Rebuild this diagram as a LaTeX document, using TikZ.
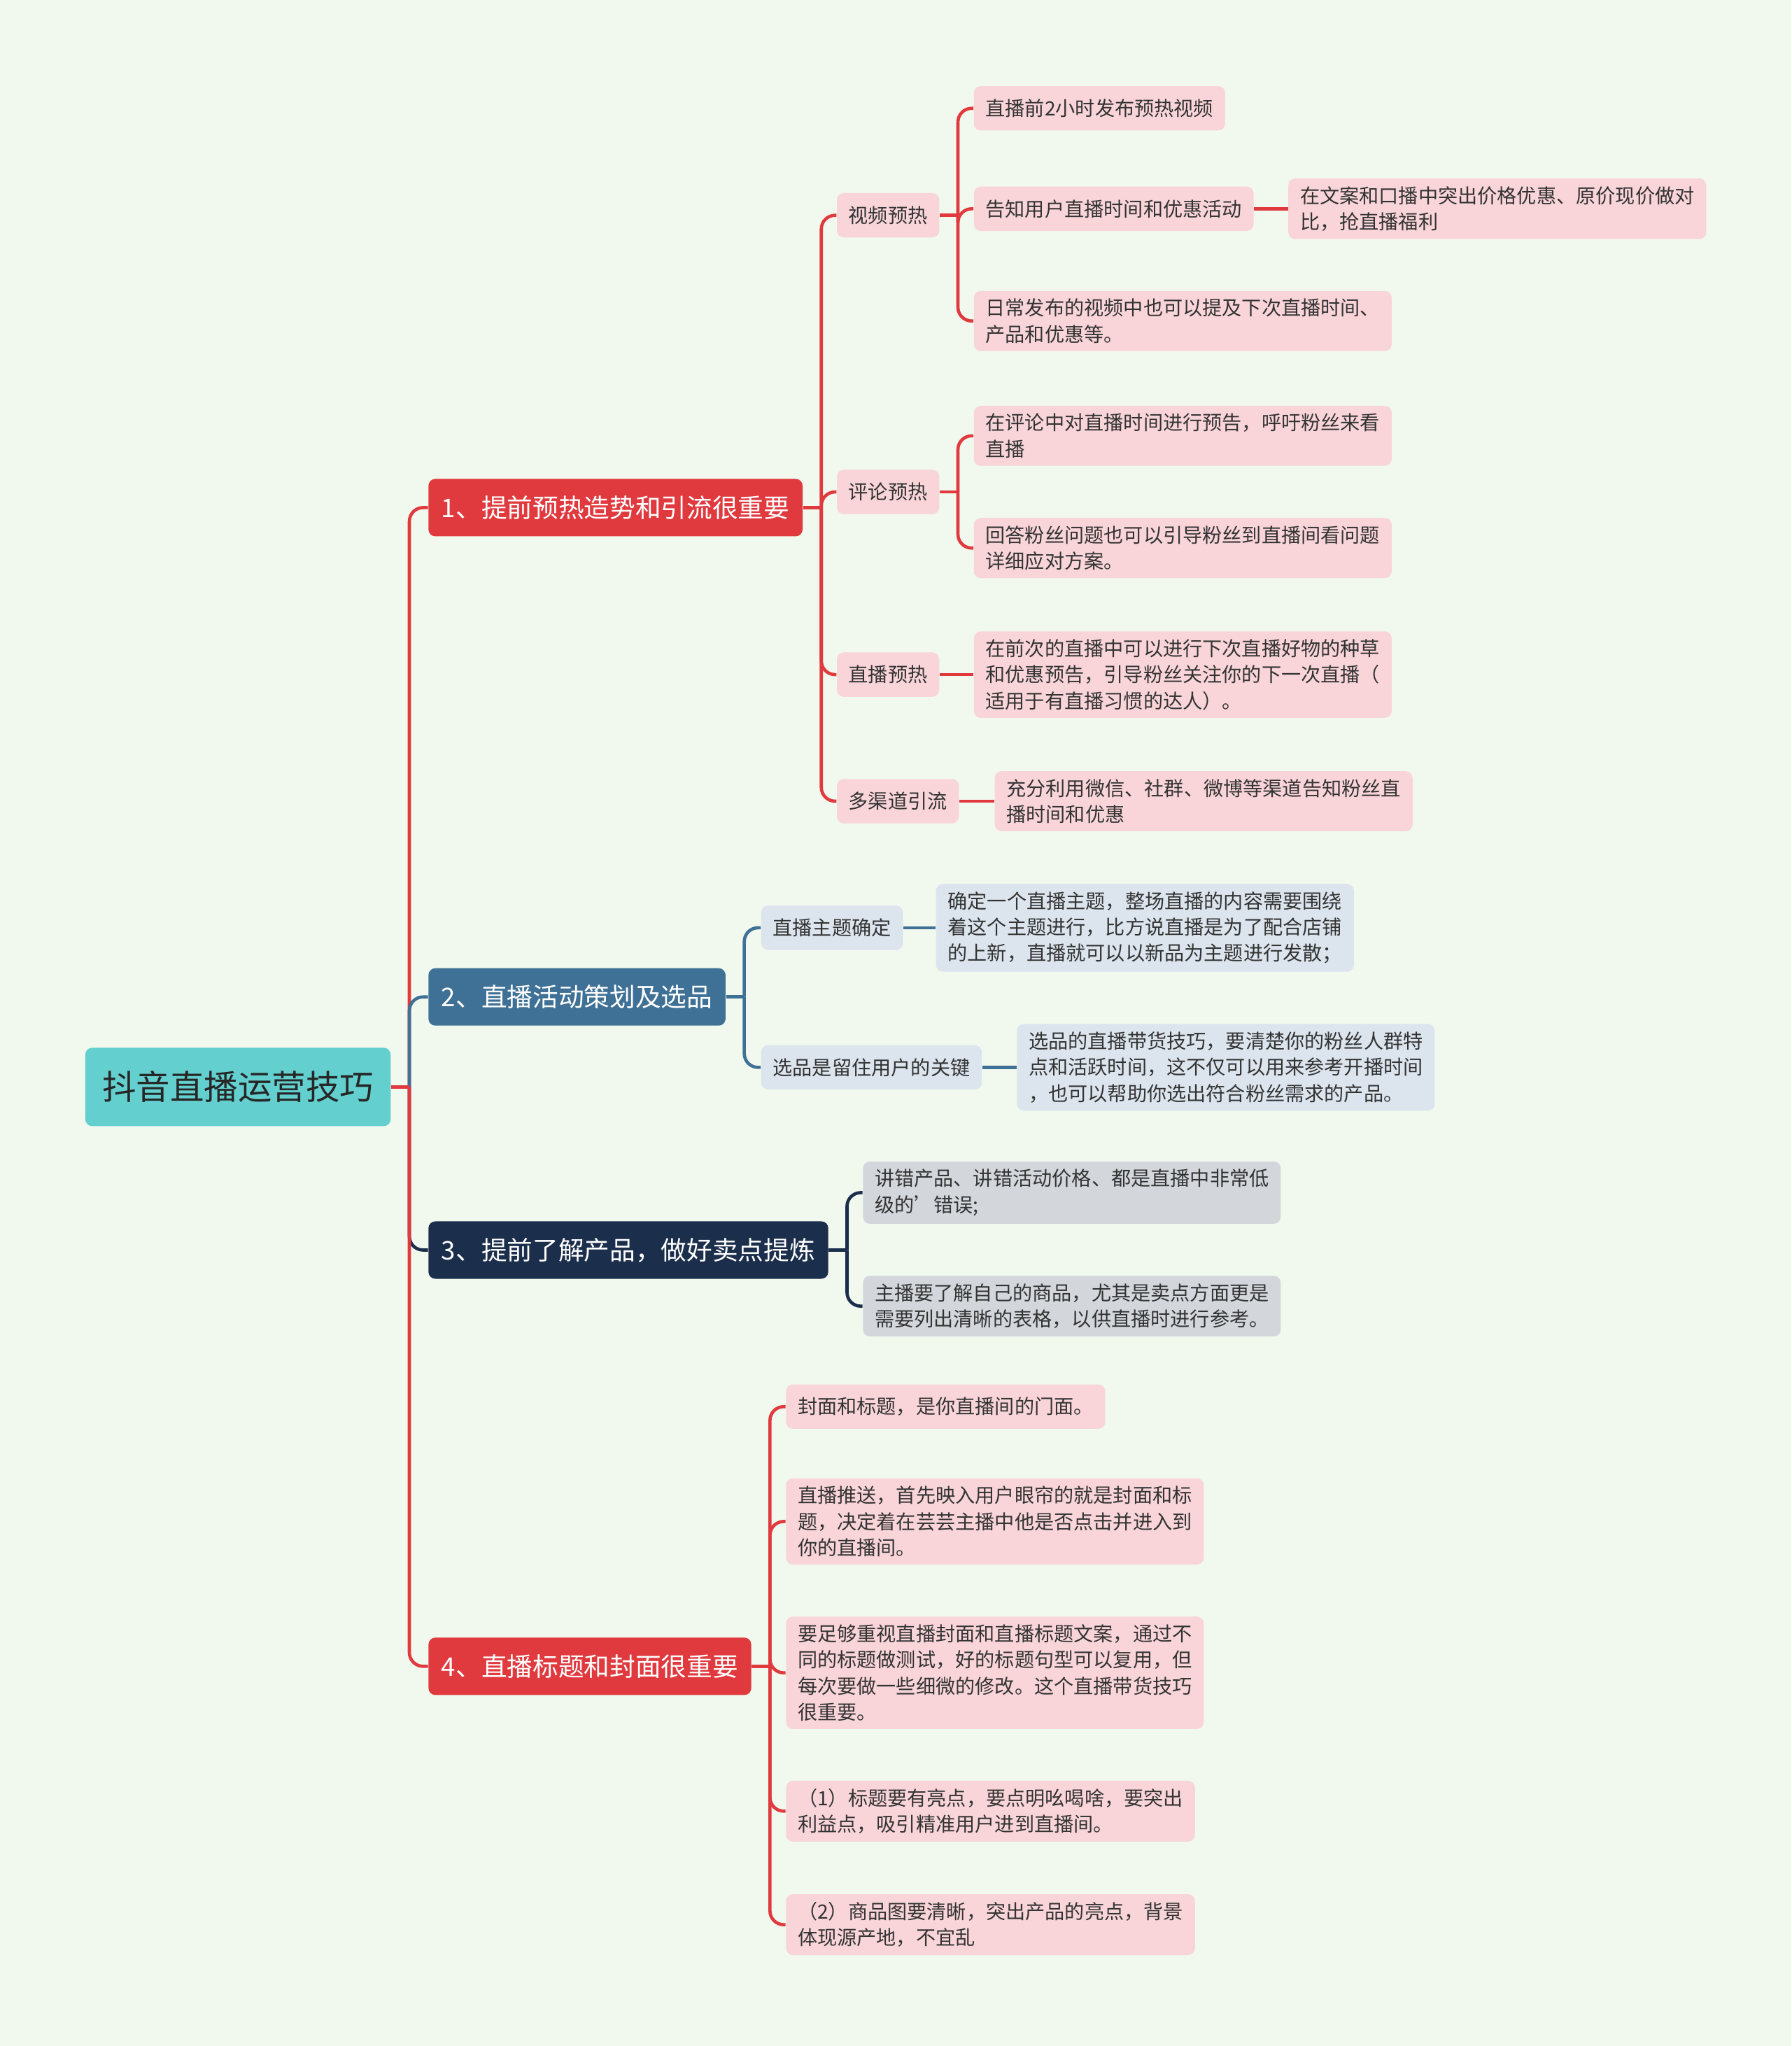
\documentclass[tikz,border=0pt]{standalone}
\usepackage{fontspec}
\setmainfont{Noto Sans CJK SC}
\definecolor{bgc}{HTML}{F1F8EE}
\definecolor{redc}{HTML}{E0393E}
\definecolor{bluec}{HTML}{3F7196}
\definecolor{navyc}{HTML}{1B2E4B}
\definecolor{tealc}{HTML}{63CFCF}
\definecolor{pinkc}{HTML}{F9D5D9}
\definecolor{lbluec}{HTML}{DCE5EE}
\definecolor{grayc}{HTML}{D3D7DC}
\tikzset{
  rootbox/.style={fill=tealc, rounded corners=3pt, anchor=west, text=black!85, font=\fontsize{14.8}{18}\selectfont, minimum height=1.2cm, inner xsep=0.26cm},
  topbox/.style={fill=#1, rounded corners=3pt, anchor=west, text=white, font=\fontsize{11.2}{13}\selectfont, minimum height=0.88cm, inner xsep=0.2cm},
  leafbox/.style={fill=#1, rounded corners=3pt, anchor=west, text=black!80, font=\fontsize{8.6}{11.4}\selectfont, align=left, minimum height=0.68cm, inner xsep=0.18cm, inner ysep=0.12cm},
  link/.style={draw=#1, line width=1.4pt},
}
\newcommand\branch[3]{%
  \path[link=#1] (#2.east) -- ++(14,0);
  \path[link=#1, rounded corners=6pt] (#2.east) ++(14,0) |- (#3.west);}
\newcommand\straight[3]{\path[link=#1] (#2.east) -- (#3.west);}
\begin{document}
\begin{tikzpicture}[x=0.02cm, y=-0.02cm]
\fill[bgc] (0,0) rectangle (1373,1568);
\useasboundingbox (0,0) rectangle (1373,1568);
% root and main topics
\node[rootbox] (root) at (65,833) {抖音直播运营技巧};
\node[topbox=redc] (t1) at (328,389) {1、提前预热造势和引流很重要};
\node[topbox=bluec] (t2) at (328,764) {2、直播活动策划及选品};
\node[topbox=navyc] (t3) at (328,958) {3、提前了解产品，做好卖点提炼};
\node[topbox=redc] (t4) at (328,1277) {4、直播标题和封面很重要};
% topic 1
\node[leafbox=pinkc] (s1) at (641,165) {视频预热};
\node[leafbox=pinkc] (s2) at (641,377) {评论预热};
\node[leafbox=pinkc] (s3) at (641,517) {直播预热};
\node[leafbox=pinkc] (s4) at (641,614) {多渠道引流};
\node[leafbox=pinkc] (s1a) at (746,83) {直播前2小时发布预热视频};
\node[leafbox=pinkc] (s1b) at (746,160) {告知用户直播时间和优惠活动};
\node[leafbox=pinkc] (s1b1) at (987,160) {在文案和口播中突出价格优惠、原价现价做对\\比，抢直播福利};
\node[leafbox=pinkc] (s1c) at (746,246) {日常发布的视频中也可以提及下次直播时间、\\产品和优惠等。};
\node[leafbox=pinkc] (s2a) at (746,334) {在评论中对直播时间进行预告，呼吁粉丝来看\\直播};
\node[leafbox=pinkc] (s2b) at (746,420) {回答粉丝问题也可以引导粉丝到直播间看问题\\详细应对方案。};
\node[leafbox=pinkc] (s3a) at (746,517) {在前次的直播中可以进行下次直播好物的种草\\和优惠预告，引导粉丝关注你的下一次直播（\\适用于有直播习惯的达人）。};
\node[leafbox=pinkc] (s4a) at (762,614) {充分利用微信、社群、微博等渠道告知粉丝直\\播时间和优惠};
% topic 2
\node[leafbox=lbluec] (p1) at (583,711) {直播主题确定};
\node[leafbox=lbluec] (p2) at (583,818) {选品是留住用户的关键};
\node[leafbox=lbluec] (p1a) at (717,711) {确定一个直播主题，整场直播的内容需要围绕\\着这个主题进行，比方说直播是为了配合店铺\\的上新，直播就可以以新品为主题进行发散；};
\node[leafbox=lbluec] (p2a) at (779,818) {选品的直播带货技巧，要清楚你的粉丝人群特\\点和活跃时间，这不仅可以用来参考开播时间\\，也可以帮助你选出符合粉丝需求的产品。};
% topic 3
\node[leafbox=grayc] (q1) at (661,914) {讲错产品、讲错活动价格、都是直播中非常低\\级的'错误;};
\node[leafbox=grayc] (q2) at (661,1001) {主播要了解自己的商品，尤其是卖点方面更是\\需要列出清晰的表格，以供直播时进行参考。};
% topic 4
\node[leafbox=pinkc] (r1) at (602,1078) {封面和标题，是你直播间的门面。};
\node[leafbox=pinkc] (r2) at (602,1166) {直播推送，首先映入用户眼帘的就是封面和标\\题，决定着在芸芸主播中他是否点击并进入到\\你的直播间。};
\node[leafbox=pinkc] (r3) at (602,1282) {要足够重视直播封面和直播标题文案，通过不\\同的标题做测试，好的标题句型可以复用，但\\每次要做一些细微的修改。这个直播带货技巧\\很重要。};
\node[leafbox=pinkc] (r4) at (602,1388) {（1）标题要有亮点，要点明吆喝啥，要突出\\利益点，吸引精准用户进到直播间。};
\node[leafbox=pinkc] (r5) at (602,1475) {（2）商品图要清晰，突出产品的亮点，背景\\体现源产地，不宜乱};
% connectors
\branch{redc}{root}{t1}
\branch{bluec}{root}{t2}
\branch{navyc}{root}{t3}
\branch{redc}{root}{t4}
\foreach \c in {s1,s2,s3,s4} {\branch{redc}{t1}{\c}}
\foreach \c in {s1a,s1b,s1c} {\branch{redc}{s1}{\c}}
\straight{redc}{s1b}{s1b1}
\foreach \c in {s2a,s2b} {\branch{redc}{s2}{\c}}
\straight{redc}{s3}{s3a}
\straight{redc}{s4}{s4a}
\foreach \c in {p1,p2} {\branch{bluec}{t2}{\c}}
\straight{bluec}{p1}{p1a}
\straight{bluec}{p2}{p2a}
\foreach \c in {q1,q2} {\branch{navyc}{t3}{\c}}
\foreach \c in {r1,r2,r3,r4,r5} {\branch{redc}{t4}{\c}}
\end{tikzpicture}
\end{document}
